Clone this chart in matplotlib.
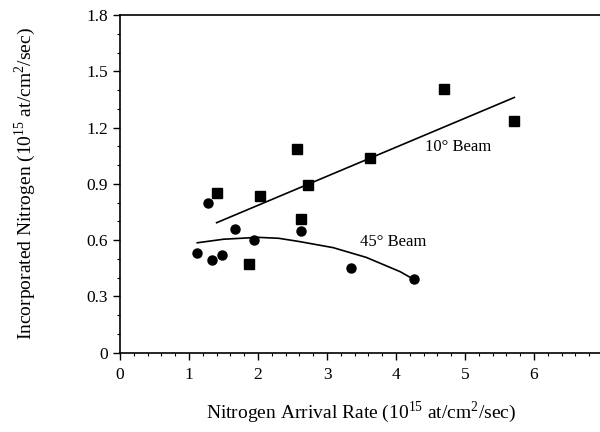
import matplotlib
matplotlib.use("Agg")
import matplotlib.pyplot as plt
from matplotlib.ticker import MultipleLocator

plt.rcParams['font.family'] = ['Liberation Serif', 'DejaVu Serif']
plt.rcParams['mathtext.fontset'] = 'custom'
plt.rcParams['mathtext.rm'] = 'Liberation Serif'

# 10 degree beam (squares)
sq_x = [1.40, 2.03, 2.56, 2.72, 3.62, 4.69, 5.71, 2.63, 1.865]
sq_y = [0.85, 0.835, 1.084, 0.892, 1.038, 1.404, 1.237, 0.713, 0.471]

# 45 degree beam (circles)
ci_x = [1.28, 1.12, 1.333, 1.483, 1.67, 1.947, 2.619, 3.353, 4.257]
ci_y = [0.796, 0.533, 0.492, 0.521, 0.661, 0.601, 0.650, 0.453, 0.391]

# fitted trends
fit10_x = [1.40, 5.715]
fit10_y = [0.693, 1.361]
fit45_x = [1.12, 1.5, 2.0, 2.3, 2.61, 3.09, 3.57, 4.06, 4.257]
fit45_y = [0.586, 0.605, 0.615, 0.610, 0.592, 0.560, 0.508, 0.432, 0.391]

fig = plt.figure(figsize=(6.0, 4.32), dpi=100)
ax = fig.add_axes([0.2, 0.1836, 0.805, 0.7814])

ax.plot(fit10_x, fit10_y, color='black', lw=1.2)
ax.plot(fit45_x, fit45_y, color='black', lw=1.2)
ax.plot(sq_x, sq_y, 's', color='black', ms=6.5, mec='black')
ax.plot(ci_x, ci_y, 'o', color='black', ms=6.5, mec='black')

ax.text(4.42, 1.098, '10° Beam', fontsize=12, va='center', ha='left')
ax.text(3.48, 0.592, '45° Beam', fontsize=12, va='center', ha='left')

ax.set_xlim(0, 7)
ax.set_ylim(0, 1.8)
ax.xaxis.set_major_locator(MultipleLocator(1))
ax.xaxis.set_minor_locator(MultipleLocator(0.2))
ax.yaxis.set_major_locator(MultipleLocator(0.3))
ax.yaxis.set_minor_locator(MultipleLocator(0.1))
ax.set_yticks([0, 0.3, 0.6, 0.9, 1.2, 1.5, 1.8])
ax.set_yticklabels(['0', '0.3', '0.6', '0.9', '1.2', '1.5', '1.8'])

ax.tick_params(which='major', direction='out', length=5, width=1, labelsize=12.5)
ax.tick_params(axis='x', which='major', pad=5)
ax.tick_params(which='minor', direction='out', length=2.5, width=0.8)
for s in ax.spines.values():
    s.set_linewidth(1.2)

fig.text(0.6025, 0.046, r'Nitrogen Arrival Rate (10$^{15}$ at/cm$^2$/sec)',
         ha='center', va='center', fontsize=14)
fig.text(0.042, 0.575, r'Incorporated Nitrogen (10$^{15}$ at/cm$^2$/sec)',
         ha='center', va='center', rotation=90, fontsize=14)

fig.savefig('out.png', dpi=100)
